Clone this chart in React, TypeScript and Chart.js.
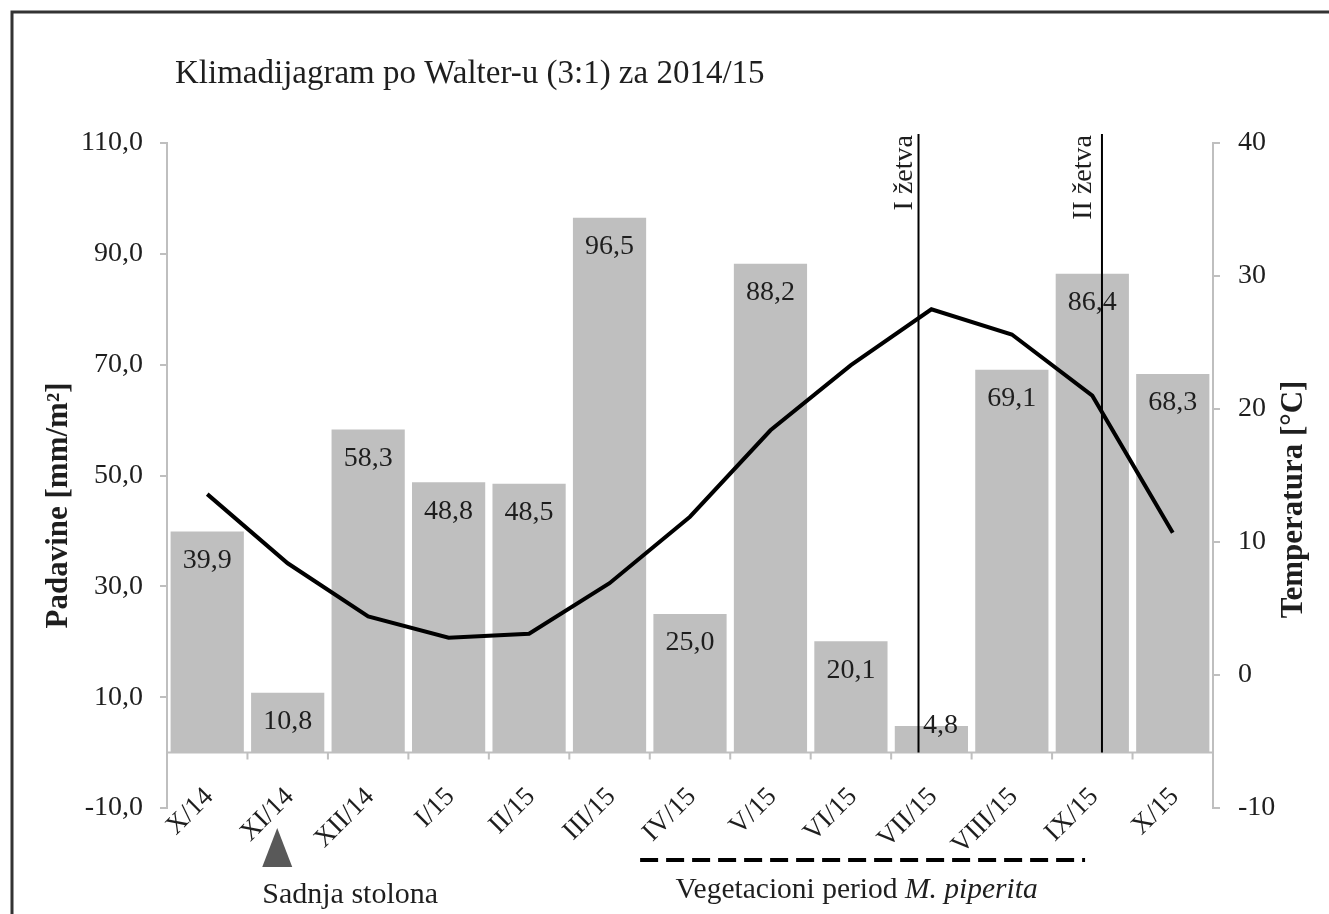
import React, { useEffect, useRef } from 'react';
import { Chart, registerables } from 'chart.js';

Chart.register(...registerables);

const chartTitle = 'Klimadijagram po Walter-u (3:1) za 2014/15';
const categories = ['X/14', 'XI/14', 'XII/14', 'I/15', 'II/15', 'III/15', 'IV/15', 'V/15', 'VI/15', 'VII/15', 'VIII/15', 'IX/15', 'X/15'];
const precipitation = [39.9, 10.8, 58.3, 48.8, 48.5, 96.5, 25.0, 88.2, 20.1, 4.8, 69.1, 86.4, 68.3];
const temperature = [13.6, 8.4, 4.4, 2.8, 3.1, 6.9, 11.9, 18.4, 23.3, 27.5, 25.6, 21.0, 10.7];
const precipTicks = [-10, 10, 30, 50, 70, 90, 110];
const tempTicks = [-10, 0, 10, 20, 30, 40];
const harvestLabels = ['I žetva', 'II žetva'];
const harvestAt = [8.84, 11.12];
const plantingLabel = 'Sadnja stolona';
const plantingAt = 0.87;
const vegetationLabel = 'Vegetacioni period ';
const vegetationSpecies = 'M. piperita';
const vegetationFrom = 5.38;
const vegetationTo = 10.91;
const leftTitle = 'Padavine [mm/m²]';
const rightTitle = 'Temperatura [°C]';

const FONT = '"Liberation Serif", "Times New Roman", serif';
const TEXT = '#1e1e1e';
const AXIS = '#bfbfbf';

const fmt = (v: number) => v.toFixed(1).replace('.', ',');

const decorPlugin = {
  id: 'decor',
  beforeDraw(chart: any) {
    const ctx = chart.ctx;
    ctx.save();
    ctx.fillStyle = '#ffffff';
    ctx.fillRect(0, 0, chart.width, chart.height);
    ctx.strokeStyle = '#333333';
    ctx.lineWidth = 3;
    ctx.beginPath();
    ctx.moveTo(12, chart.height);
    ctx.lineTo(12, 12);
    ctx.lineTo(chart.width, 12);
    ctx.stroke();

    ctx.fillStyle = TEXT;
    ctx.font = `33px ${FONT}`;
    ctx.textAlign = 'left';
    ctx.textBaseline = 'alphabetic';
    ctx.fillText(chartTitle, 175, 83);

    const area = chart.chartArea;
    const midY = (area.top + area.bottom) / 2;
    ctx.font = `bold 31px ${FONT}`;
    ctx.textAlign = 'center';
    ctx.save();
    ctx.translate(67, midY + 30);
    ctx.rotate(-Math.PI / 2);
    ctx.fillText(leftTitle, 0, 0);
    ctx.restore();
    ctx.save();
    ctx.translate(1302, midY + 24);
    ctx.rotate(-Math.PI / 2);
    ctx.fillText(rightTitle, 0, 0);
    ctx.restore();
    ctx.restore();
  },
  afterDatasetsDraw(chart: any) {
    const ctx = chart.ctx;
    const xs = chart.scales.x;
    const ys = chart.scales.y;
    const area = chart.chartArea;
    const y0 = ys.getPixelForValue(0);
    ctx.save();

    // bar value labels
    const meta = chart.getDatasetMeta(1);
    ctx.font = `28px ${FONT}`;
    ctx.fillStyle = TEXT;
    ctx.textAlign = 'center';
    ctx.textBaseline = 'middle';
    meta.data.forEach((el: any, i: number) => {
      const h = el.base - el.y;
      const label = fmt(precipitation[i]);
      if (h < 40) ctx.fillText(label, el.x + 9, el.y);
      else ctx.fillText(label, el.x, el.y + 29);
    });

    // x axis line at zero with ticks
    ctx.strokeStyle = AXIS;
    ctx.lineWidth = 2;
    ctx.beginPath();
    ctx.moveTo(area.left, y0);
    ctx.lineTo(area.right, y0);
    for (let i = 0; i <= categories.length; i++) {
      const px = xs.getPixelForValue(i - 0.5);
      ctx.moveTo(px, y0);
      ctx.lineTo(px, y0 + 7);
    }
    ctx.stroke();

    // x tick labels
    ctx.fillStyle = TEXT;
    ctx.font = `27px ${FONT}`;
    ctx.textAlign = 'right';
    ctx.textBaseline = 'middle';
    categories.forEach((c, i) => {
      const px = xs.getPixelForValue(i);
      ctx.save();
      ctx.translate(px + 2, y0 + 40);
      ctx.rotate(-Math.PI / 4);
      ctx.fillText(c, 0, 0);
      ctx.restore();
    });

    // harvest lines
    harvestAt.forEach((v, i) => {
      const px = xs.getPixelForValue(v);
      ctx.strokeStyle = '#000000';
      ctx.lineWidth = 2;
      ctx.beginPath();
      ctx.moveTo(px, area.top - 9);
      ctx.lineTo(px, y0);
      ctx.stroke();
      ctx.save();
      ctx.translate(px - 7 - i * 4, area.top - 8);
      ctx.rotate(-Math.PI / 2);
      ctx.font = `28px ${FONT}`;
      ctx.fillStyle = TEXT;
      ctx.textAlign = 'right';
      ctx.textBaseline = 'alphabetic';
      ctx.fillText(harvestLabels[i], 0, 0);
      ctx.restore();
    });

    // planting marker
    const tx = xs.getPixelForValue(plantingAt);
    ctx.fillStyle = '#595959';
    ctx.beginPath();
    ctx.moveTo(tx, 828);
    ctx.lineTo(tx + 15, 867);
    ctx.lineTo(tx - 15, 867);
    ctx.closePath();
    ctx.fill();
    ctx.fillStyle = TEXT;
    ctx.font = `30px ${FONT}`;
    ctx.textAlign = 'left';
    ctx.textBaseline = 'alphabetic';
    ctx.fillText(plantingLabel, tx - 15, 903);

    // vegetation period
    const vx1 = xs.getPixelForValue(vegetationFrom);
    const vx2 = xs.getPixelForValue(vegetationTo);
    ctx.strokeStyle = '#000000';
    ctx.lineWidth = 4;
    ctx.setLineDash([18, 8]);
    ctx.beginPath();
    ctx.moveTo(vx1, 860);
    ctx.lineTo(vx2, 860);
    ctx.stroke();
    ctx.setLineDash([]);
    ctx.font = `29.5px ${FONT}`;
    const w1 = ctx.measureText(vegetationLabel).width;
    ctx.font = `italic 29.5px ${FONT}`;
    const w2 = ctx.measureText(vegetationSpecies).width;
    const start = (vx1 + vx2) / 2 - (w1 + w2) / 2 - 6;
    ctx.fillStyle = TEXT;
    ctx.font = `29.5px ${FONT}`;
    ctx.fillText(vegetationLabel, start, 898);
    ctx.font = `italic 29.5px ${FONT}`;
    ctx.fillText(vegetationSpecies, start + w1, 898);

    ctx.restore();
  },
};

export default function App() {
  const ref = useRef<HTMLCanvasElement>(null);
  useEffect(() => {
    if (!ref.current) return;
    const chart = new Chart(ref.current, {
      type: 'bar',
      data: {
        labels: categories,
        datasets: [
          {
            type: 'line',
            label: 'Temperatura',
            data: temperature,
            yAxisID: 'y1',
            borderColor: '#000000',
            borderWidth: 4,
            pointRadius: 0,
            tension: 0,
            fill: false,
            order: 0,
          } as any,
          {
            type: 'bar',
            label: 'Padavine',
            data: precipitation,
            yAxisID: 'y',
            backgroundColor: '#bfbfbf',
            borderWidth: 0,
            barPercentage: 0.91,
            categoryPercentage: 1,
            order: 1,
          },
        ],
      },
      options: {
        responsive: false,
        devicePixelRatio: 1,
        animation: false,
        layout: { padding: { top: 143, left: 12, right: 0, bottom: 106 } },
        plugins: { legend: { display: false }, tooltip: { enabled: false }, title: { display: false } },
        scales: {
          x: { type: 'category', display: false, offset: true, grid: { display: false } },
          y: {
            position: 'left',
            min: -10,
            max: 110,
            afterBuildTicks: (s: any) => { s.ticks = precipTicks.map((v) => ({ value: v })); },
            afterFit: (s: any) => { s.width = 155; },
            ticks: { callback: (v: any) => fmt(Number(v)), font: { family: FONT, size: 28 }, color: TEXT, padding: 17 },
            grid: { drawOnChartArea: false, drawTicks: true, tickLength: 7, color: AXIS, lineWidth: 2 },
            border: { display: true, color: AXIS, width: 2 },
          },
          y1: {
            position: 'right',
            min: -10,
            max: 40,
            afterBuildTicks: (s: any) => { s.ticks = tempTicks.map((v) => ({ value: v })); },
            afterFit: (s: any) => { s.width = 116; },
            ticks: { callback: (v: any) => String(v), font: { family: FONT, size: 28 }, color: TEXT, padding: 18 },
            grid: { drawOnChartArea: false, drawTicks: true, tickLength: 7, color: AXIS, lineWidth: 2 },
            border: { display: true, color: AXIS, width: 2 },
          },
        },
      } as any,
      plugins: [decorPlugin],
    });
    return () => chart.destroy();
  }, []);
  return (
    <div style={{ position: 'absolute', left: 0, top: 0, width: 1329, height: 914 }}>
      <canvas ref={ref} width={1329} height={914} style={{ display: 'block' }} />
    </div>
  );
}
